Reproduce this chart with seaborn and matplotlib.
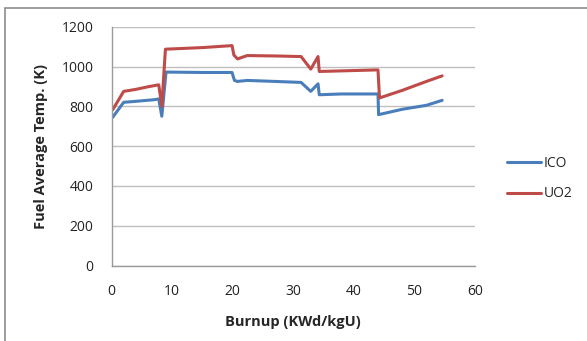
import pandas as pd
import seaborn as sns
import matplotlib.pyplot as plt
from matplotlib.patches import Rectangle

# Burnup (KWd/kgU) vs fuel average temperature (K)
burnup_ico = [0.2, 2.0, 4.0, 7.0, 7.8, 8.3, 9.0, 15.0, 19.9, 20.3, 20.8, 22.4, 27.0, 31.3, 32.9, 34.1, 34.3, 38.0, 44.0, 44.1, 48.0, 52.0, 54.6]
temp_ico = [745, 820, 825, 833, 837, 750, 972, 970, 970, 930, 925, 930, 925, 920, 875, 913, 858, 862, 862, 758, 785, 805, 830]

burnup_uo2 = [0.2, 2.0, 4.0, 6.0, 7.8, 8.3, 8.9, 15.0, 19.9, 20.2, 20.8, 22.4, 27.0, 31.3, 32.9, 34.1, 34.3, 38.0, 44.0, 44.25, 48.0, 52.0, 54.6]
temp_uo2 = [783, 875, 885, 898, 908, 800, 1087, 1095, 1105, 1058, 1038, 1055, 1053, 1050, 987, 1050, 975, 978, 983, 842, 880, 925, 953]

series_names = ["ICO", "UO2"]
series_colors = ["#4a7ebb", "#be4b48"]

df = pd.concat([
    pd.DataFrame({"burnup": burnup_ico, "temp": temp_ico, "fuel": "ICO"}),
    pd.DataFrame({"burnup": burnup_uo2, "temp": temp_uo2, "fuel": "UO2"}),
])

sns.set_style("white")
plt.rcParams["font.family"] = ["Open Sans", "DejaVu Sans"]

fig = plt.figure(figsize=(5.87, 3.41), dpi=100)
ax = fig.add_axes([0.19, 0.2214, 0.619, 0.7003])

sns.lineplot(data=df, x="burnup", y="temp", hue="fuel", hue_order=series_names,
             palette=series_colors, estimator=None, sort=False, linewidth=2.2, ax=ax)

ax.set_xlim(0, 60)
ax.set_ylim(0, 1200)
ax.set_xticks(range(0, 61, 10))
ax.set_yticks(range(0, 1201, 200))
ax.yaxis.grid(True, color="#bfbfbf", linewidth=1)
ax.xaxis.grid(False)
for side in ["top", "right"]:
    ax.spines[side].set_visible(False)
for side in ["left", "bottom"]:
    ax.spines[side].set_color("#9a9a9a")
    ax.spines[side].set_linewidth(1)
ax.tick_params(length=0, labelsize=10, colors="#222222")
ax.tick_params(axis="y", pad=13)
ax.tick_params(axis="x", pad=13)

ax.set_xlabel("Burnup (KWd/kgU)", fontsize=10.5, fontweight="bold", labelpad=12)
ax.set_ylabel("Fuel Average Temp. (K)", fontsize=10.5, fontweight="bold", labelpad=10)

ax.legend(loc="center left", bbox_to_anchor=(0.864, 0.4765), bbox_transform=fig.transFigure,
          frameon=False, fontsize=10, handlelength=2.4, handletextpad=0.2,
          labelspacing=1.15, borderpad=0, borderaxespad=0)

# outer chart border
fig.patches.append(Rectangle((5 / 587, -0.1), 1.2, 1 - 8 / 341 + 0.1,
                             transform=fig.transFigure, fill=False,
                             edgecolor="#8c8c8c", linewidth=1.2, clip_on=False))

fig.savefig("out.png", dpi=100)
